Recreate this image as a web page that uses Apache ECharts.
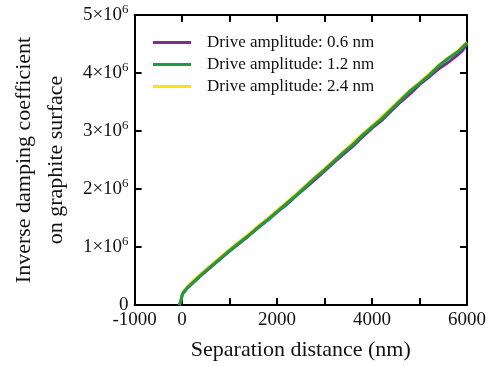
<!DOCTYPE html>
<html>
<head>
<meta charset="utf-8">
<script src="https://cdn.jsdelivr.net/npm/echarts@6/dist/echarts.min.js"></script>
<style>
  html, body { margin: 0; padding: 0; background: #fff; }
  #chart { width: 493px; height: 366px; }
</style>
</head>
<body>
<div id="chart"></div>
<script>
// separation distance (nm), shared by all three curves
const distanceNm = [-60, -30, 0, 20, 100, 200, 400, 600, 800, 1000, 1200, 1400, 1600, 1800, 2000,
  2200, 2400, 2600, 2800, 3000, 3200, 3400, 3600, 3800, 4000, 4200, 4400, 4600, 4800, 5000,
  5200, 5400, 5600, 5800, 5900, 6000]

// inverse damping coefficient, in units of 10^6
const amp06 = [0, 0.05, 0.16, 0.20, 0.28, 0.36, 0.51, 0.65, 0.79, 0.93, 1.06, 1.19, 1.33, 1.46, 1.60,
  1.73, 1.88, 2.02, 2.16, 2.31, 2.46, 2.60, 2.74, 2.90, 3.05, 3.18, 3.34, 3.50, 3.64, 3.80,
  3.93, 4.07, 4.18, 4.31, 4.38, 4.50]
const amp12 = [0, 0.06, 0.17, 0.21, 0.29, 0.37, 0.52, 0.66, 0.80, 0.94, 1.07, 1.20, 1.34, 1.47, 1.61,
  1.75, 1.89, 2.04, 2.19, 2.33, 2.48, 2.63, 2.77, 2.93, 3.07, 3.21, 3.37, 3.53, 3.69, 3.82,
  3.96, 4.12, 4.25, 4.36, 4.44, 4.52]
const amp24 = [0, 0.08, 0.18, 0.22, 0.31, 0.39, 0.54, 0.68, 0.82, 0.96, 1.09, 1.22, 1.36, 1.49, 1.63,
  1.77, 1.91, 2.06, 2.21, 2.35, 2.50, 2.65, 2.80, 2.95, 3.09, 3.24, 3.39, 3.55, 3.70, 3.84,
  3.98, 4.13, 4.26, 4.38, 4.46, 4.53]

const seriesNames = ['Drive amplitude: 0.6 nm', 'Drive amplitude: 1.2 nm', 'Drive amplitude: 2.4 nm']
const xLabelsShown = [-1000, 0, 2000, 4000, 6000]

const FONT = 'Liberation Serif'
const pairs = (ys) => distanceNm.map((x, i) => [x, ys[i]])

const chart = echarts.init(document.getElementById('chart'), null, { renderer: 'canvas' })

// box frame: every axis line stays on the grid edge
const frameLine = { show: true, onZero: false, lineStyle: { color: '#000', width: 2 } }
const innerTicks = { show: true, inside: true, length: 7, lineStyle: { color: '#000', width: 2 } }

const line = (name, data, color, z) => ({
  name,
  type: 'line',
  data,
  z,
  showSymbol: false,
  lineStyle: { color, width: 3 },
  itemStyle: { color },
})

chart.setOption({
  animation: false,
  grid: { left: 124, right: 26, top: 15, bottom: 60 },
  legend: {
    orient: 'vertical',
    left: 153,
    top: 34,
    padding: 0,
    itemWidth: 38,
    itemHeight: 3,
    itemGap: 5,
    icon: 'rect',
    data: seriesNames,
    textStyle: { fontFamily: FONT, fontSize: 17, color: '#111', padding: [0, 0, 0, 11] },
  },
  xAxis: [
    {
      type: 'value',
      min: -1000,
      max: 6000,
      interval: 1000,
      axisLine: frameLine,
      axisTick: innerTicks,
      splitLine: { show: false },
      axisLabel: {
        color: '#111',
        fontFamily: FONT,
        fontSize: 19,
        margin: 6,
        formatter: (v) => (xLabelsShown.includes(v) ? String(v) : ''),
      },
      name: 'Separation distance (nm)',
      nameLocation: 'middle',
      nameGap: 34,
      nameTextStyle: { fontFamily: FONT, fontSize: 22, color: '#111' },
    },
    {
      type: 'value',
      position: 'top',
      min: -1000,
      max: 6000,
      interval: 1000,
      axisLine: frameLine,
      axisTick: innerTicks,
      axisLabel: { show: false },
      splitLine: { show: false },
    },
  ],
  yAxis: [
    {
      type: 'value',
      min: 0,
      max: 5,
      interval: 1,
      axisLine: frameLine,
      axisTick: innerTicks,
      splitLine: { show: false },
      axisLabel: {
        color: '#111',
        fontFamily: FONT,
        fontSize: 19,
        margin: 6,
        formatter: (v) => (v === 0 ? '0' : `{m|${v}×10}{s|6}`),
        rich: {
          m: { fontFamily: FONT, fontSize: 19, color: '#111' },
          s: { fontFamily: FONT, fontSize: 13, color: '#111', verticalAlign: 'bottom', padding: [0, 0, 11, 0] },
        },
      },
      name: 'Inverse damping coefficient\non graphite surface',
      nameLocation: 'middle',
      nameGap: 54,
      nameTextStyle: { fontFamily: FONT, fontSize: 22, color: '#111', lineHeight: 32 },
    },
    {
      type: 'value',
      position: 'right',
      min: 0,
      max: 5,
      interval: 1,
      axisLine: frameLine,
      axisTick: innerTicks,
      axisLabel: { show: false },
      splitLine: { show: false },
    },
  ],
  series: [
    line(seriesNames[0], pairs(amp06), '#7b2d8e', 2),
    line(seriesNames[2], pairs(amp24), '#ffe500', 3),
    line(seriesNames[1], pairs(amp12), '#1f9a45', 4),
  ],
})
</script>
</body>
</html>
